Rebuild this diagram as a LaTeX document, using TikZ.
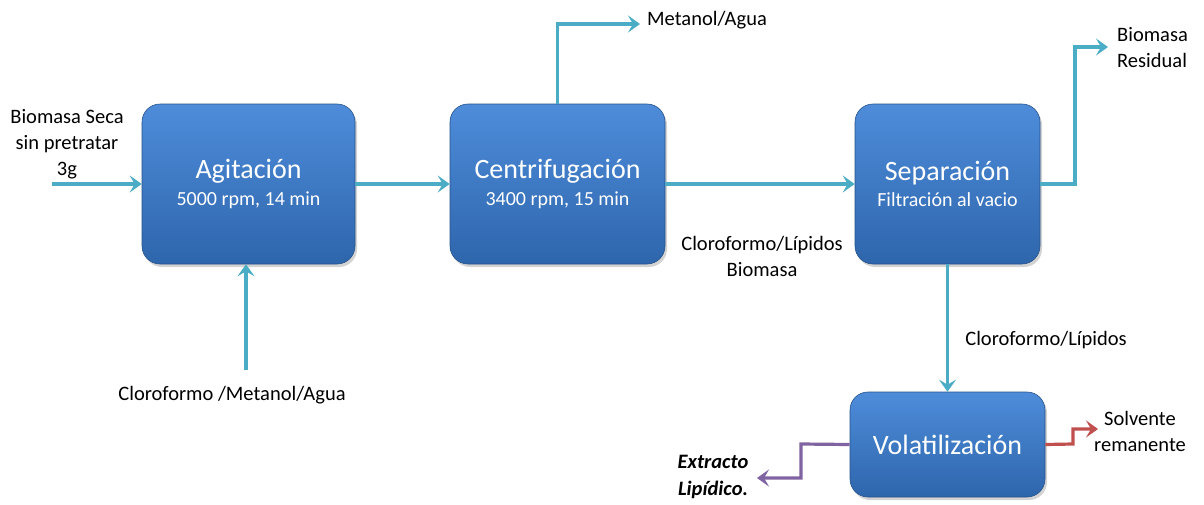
\documentclass[tikz,border=0pt]{standalone}
\usepackage{fontspec}
\setmainfont{Carlito}
\usetikzlibrary{arrows.meta,shadows,calc}
\definecolor{flow}{RGB}{75,172,198}
\definecolor{purp}{RGB}{128,100,162}
\definecolor{redd}{RGB}{192,80,77}
\definecolor{boxtop}{RGB}{78,140,218}
\definecolor{boxbot}{RGB}{46,102,172}
\newcommand\ttlfont{\fontsize{28}{32}\selectfont}
\newcommand\subfont{\fontsize{20}{24}\selectfont}
\tikzset{
  procbox/.style={rounded corners=18pt, top color=boxtop, bottom color=boxbot,
    draw=boxbot!80!black, line width=0.6pt, text=white, align=center,
    drop shadow={shadow xshift=2pt, shadow yshift=-3pt, opacity=0.35},
    inner sep=0pt},
  tip/.style={-{Stealth[length=12pt,width=17pt,inset=5pt]}},
  flowline/.style={line width=3.2pt, color=flow, tip},
  lbl/.style={font=\fontsize{20.5}{26}\selectfont, align=center, inner sep=0pt},
}
\begin{document}
\begin{tikzpicture}[x=1pt,y=-1pt]
\useasboundingbox (0,0) rectangle (1204,504);
% boxes
\node[procbox, minimum width=213pt, minimum height=160pt] (agit) at (248.5,184)
  {{\ttlfont Agitación}\\[7pt]{\subfont 5000 rpm, 14 min}};
\node[procbox, minimum width=215pt, minimum height=160pt] (cent) at (557.5,184)
  {{\ttlfont Centrifugación}\\[7pt]{\subfont 3400 rpm, 15 min}};
\node[procbox, minimum width=185pt, minimum height=160pt] (sepa) at (947.5,184)
  {{\ttlfont Separación}\\[7pt]{\subfont Filtración al vacio}};
\node[procbox, minimum width=195pt, minimum height=105pt] (vola) at (947.5,444.5)
  {{\ttlfont Volatilización}};
% labels
\node[lbl] (lbio) at (67,144) {Biomasa Seca\\ sin pretratar\\ 3g};
\coordinate (inA) at (52,184);
\node[lbl] (lclo) at (232,395) {Cloroformo /Metanol/Agua};
\coordinate (inB) at (246,370);
\node[lbl, anchor=west] (lmet) at (647,20) {Metanol/Agua};
\node[lbl, align=left, anchor=west] (lres) at (1117,48) {Biomasa\\Residual};
\node[lbl] (lcl1) at (762,256) {Cloroformo/Lípidos\\Biomasa};
\node[lbl] (lcl2) at (1046,340) {Cloroformo/Lípidos};
\node[lbl, font=\fontsize{20.5}{27}\selectfont\bfseries\itshape] (lext) at (713,477) {Extracto\\Lipídico.};
\node[lbl] (lsol) at (1140,431) {Solvente\\remanente};
\coordinate (metEnd) at (640,24);
\coordinate (resEnd) at (1108,47);
% connectors
\draw[flowline] (inA) -- (agit.west);
\draw[flowline] (inB) -- (inB |- agit.south);
\draw[flowline] (agit.east) -- (cent.west);
\draw[flowline] (cent.east) -- (sepa.west);
\draw[flowline] (cent.north) |- (metEnd);
\draw[flowline] (sepa.east) -| (1075,47) -- (resEnd);
\draw[flowline] (sepa.south) -- (vola.north);
\draw[line width=3.2pt, color=purp, tip]
  (vola.west) -- (801,444) -- (801,478) -- (757,478);
\draw[line width=3.2pt, color=redd, tip]
  (vola.east) -- (1073,444) -- (1073,429) -- (1098,429);
\end{tikzpicture}
\end{document}
